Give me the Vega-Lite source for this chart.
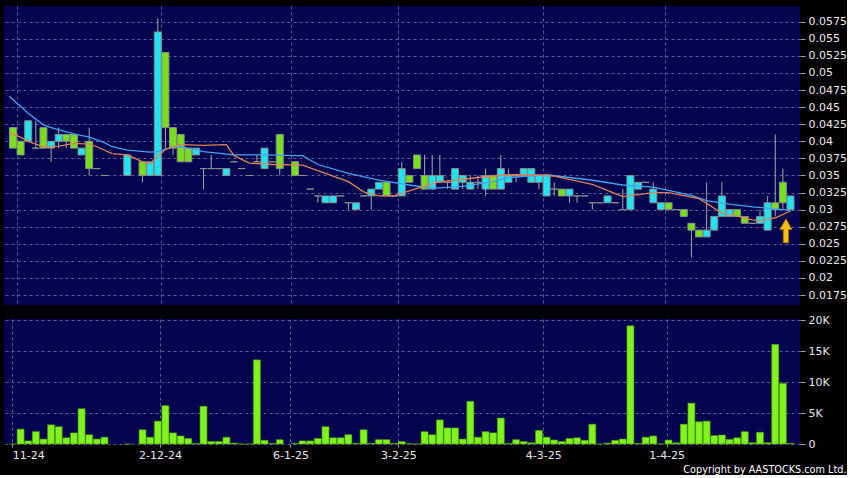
{
  "$schema": "https://vega.github.io/schema/vega-lite/v6.json",
  "background": "#000000",
  "padding": {"left": 4, "top": 6, "right": 0, "bottom": 0},
  "config": {
    "view": {"fill": "#03034f", "stroke": null},
    "axis": {"labelFont": "DejaVu Sans", "labelFontSize": 11, "labelColor": "#e8e8e8", "tickColor": "#a0a0a0", "domain": false, "gridColor": "#5c5c94", "gridDash": [3, 3], "gridWidth": 1, "title": null, "labelOverlap": false}
  },
  "datasets": {
    "candles": [
      {"i":0,"o":0.042,"h":0.042,"l":0.039,"c":0.039,"v":0},
      {"i":1,"o":0.040,"h":0.040,"l":0.038,"c":0.038,"v":2400},
      {"i":2,"o":0.040,"h":0.043,"l":0.040,"c":0.043,"v":500},
      {"i":3,"o":0.039,"h":0.043,"l":0.039,"c":0.039,"v":2000},
      {"i":4,"o":0.042,"h":0.042,"l":0.039,"c":0.039,"v":800},
      {"i":5,"o":0.039,"h":0.040,"l":0.037,"c":0.040,"v":3100},
      {"i":6,"o":0.040,"h":0.042,"l":0.039,"c":0.041,"v":2800},
      {"i":7,"o":0.041,"h":0.041,"l":0.039,"c":0.040,"v":1000},
      {"i":8,"o":0.041,"h":0.041,"l":0.039,"c":0.039,"v":1800},
      {"i":9,"o":0.038,"h":0.039,"l":0.038,"c":0.039,"v":5700},
      {"i":10,"o":0.040,"h":0.042,"l":0.035,"c":0.036,"v":1500},
      {"i":11,"o":0.036,"h":0.036,"l":0.036,"c":0.036,"v":800},
      {"i":12,"o":0.035,"h":0.035,"l":0.035,"c":0.035,"v":1100},
      {"i":15,"o":0.035,"h":0.038,"l":0.035,"c":0.038,"v":0},
      {"i":17,"o":0.037,"h":0.037,"l":0.034,"c":0.035,"v":2300},
      {"i":18,"o":0.035,"h":0.037,"l":0.035,"c":0.037,"v":1100},
      {"i":19,"o":0.035,"h":0.058,"l":0.035,"c":0.056,"v":3700},
      {"i":20,"o":0.053,"h":0.053,"l":0.039,"c":0.042,"v":6200},
      {"i":21,"o":0.042,"h":0.042,"l":0.038,"c":0.039,"v":1800},
      {"i":22,"o":0.041,"h":0.041,"l":0.037,"c":0.037,"v":1300},
      {"i":23,"o":0.039,"h":0.039,"l":0.037,"c":0.037,"v":900},
      {"i":24,"o":0.038,"h":0.039,"l":0.038,"c":0.039,"v":100},
      {"i":25,"o":0.036,"h":0.036,"l":0.033,"c":0.036,"v":6100},
      {"i":26,"o":0.036,"h":0.038,"l":0.036,"c":0.036,"v":400},
      {"i":27,"o":0.036,"h":0.036,"l":0.036,"c":0.036,"v":400},
      {"i":28,"o":0.035,"h":0.036,"l":0.035,"c":0.036,"v":1100},
      {"i":29,"o":0.037,"h":0.037,"l":0.037,"c":0.037,"v":150},
      {"i":30,"o":0.036,"h":0.036,"l":0.036,"c":0.036,"v":0},
      {"i":31,"o":0.035,"h":0.035,"l":0.035,"c":0.035,"v":0},
      {"i":32,"o":0.037,"h":0.038,"l":0.037,"c":0.037,"v":13600},
      {"i":33,"o":0.036,"h":0.039,"l":0.036,"c":0.039,"v":600},
      {"i":34,"o":0.037,"h":0.037,"l":0.037,"c":0.037,"v":100},
      {"i":35,"o":0.041,"h":0.041,"l":0.035,"c":0.036,"v":700},
      {"i":37,"o":0.037,"h":0.037,"l":0.035,"c":0.035,"v":100},
      {"i":38,"o":0.035,"h":0.035,"l":0.035,"c":0.035,"v":500},
      {"i":39,"o":0.033,"h":0.033,"l":0.033,"c":0.033,"v":500},
      {"i":40,"o":0.032,"h":0.032,"l":0.031,"c":0.032,"v":900},
      {"i":41,"o":0.031,"h":0.032,"l":0.031,"c":0.032,"v":2800},
      {"i":42,"o":0.031,"h":0.032,"l":0.031,"c":0.032,"v":1000},
      {"i":43,"o":0.032,"h":0.032,"l":0.032,"c":0.032,"v":1000},
      {"i":44,"o":0.031,"h":0.031,"l":0.030,"c":0.031,"v":1500},
      {"i":45,"o":0.030,"h":0.031,"l":0.030,"c":0.031,"v":100},
      {"i":46,"o":0.032,"h":0.032,"l":0.032,"c":0.032,"v":2300},
      {"i":47,"o":0.032,"h":0.033,"l":0.030,"c":0.033,"v":100},
      {"i":48,"o":0.033,"h":0.034,"l":0.033,"c":0.034,"v":700},
      {"i":49,"o":0.034,"h":0.034,"l":0.032,"c":0.032,"v":700},
      {"i":50,"o":0.032,"h":0.032,"l":0.032,"c":0.032,"v":100},
      {"i":51,"o":0.032,"h":0.037,"l":0.032,"c":0.036,"v":400},
      {"i":52,"o":0.035,"h":0.035,"l":0.034,"c":0.034,"v":50},
      {"i":53,"o":0.038,"h":0.038,"l":0.036,"c":0.036,"v":0},
      {"i":54,"o":0.035,"h":0.038,"l":0.033,"c":0.033,"v":2000},
      {"i":55,"o":0.033,"h":0.038,"l":0.033,"c":0.035,"v":1500},
      {"i":56,"o":0.034,"h":0.038,"l":0.034,"c":0.035,"v":3900},
      {"i":57,"o":0.034,"h":0.034,"l":0.033,"c":0.034,"v":2600},
      {"i":58,"o":0.033,"h":0.036,"l":0.033,"c":0.036,"v":2600},
      {"i":59,"o":0.034,"h":0.035,"l":0.033,"c":0.035,"v":800},
      {"i":60,"o":0.033,"h":0.035,"l":0.033,"c":0.034,"v":6900},
      {"i":61,"o":0.034,"h":0.035,"l":0.033,"c":0.034,"v":1100},
      {"i":62,"o":0.033,"h":0.036,"l":0.032,"c":0.035,"v":2000},
      {"i":63,"o":0.035,"h":0.035,"l":0.033,"c":0.033,"v":1800},
      {"i":64,"o":0.033,"h":0.038,"l":0.033,"c":0.036,"v":4200},
      {"i":65,"o":0.034,"h":0.036,"l":0.034,"c":0.035,"v":100},
      {"i":66,"o":0.035,"h":0.035,"l":0.034,"c":0.035,"v":700},
      {"i":67,"o":0.035,"h":0.036,"l":0.035,"c":0.036,"v":400},
      {"i":68,"o":0.034,"h":0.036,"l":0.034,"c":0.036,"v":200},
      {"i":69,"o":0.034,"h":0.035,"l":0.033,"c":0.035,"v":2200},
      {"i":70,"o":0.032,"h":0.035,"l":0.032,"c":0.035,"v":1100},
      {"i":71,"o":0.033,"h":0.034,"l":0.032,"c":0.033,"v":650},
      {"i":72,"o":0.033,"h":0.033,"l":0.032,"c":0.032,"v":400},
      {"i":73,"o":0.032,"h":0.033,"l":0.031,"c":0.033,"v":900},
      {"i":74,"o":0.032,"h":0.032,"l":0.031,"c":0.032,"v":1000},
      {"i":75,"o":0.032,"h":0.032,"l":0.032,"c":0.032,"v":600},
      {"i":76,"o":0.031,"h":0.031,"l":0.030,"c":0.031,"v":3200},
      {"i":77,"o":0.031,"h":0.031,"l":0.031,"c":0.031,"v":0},
      {"i":78,"o":0.031,"h":0.032,"l":0.031,"c":0.032,"v":150},
      {"i":79,"o":0.031,"h":0.031,"l":0.031,"c":0.031,"v":600},
      {"i":80,"o":0.030,"h":0.033,"l":0.030,"c":0.030,"v":800},
      {"i":81,"o":0.030,"h":0.035,"l":0.030,"c":0.035,"v":19100},
      {"i":82,"o":0.033,"h":0.034,"l":0.033,"c":0.034,"v":100},
      {"i":83,"o":0.034,"h":0.034,"l":0.034,"c":0.034,"v":1100},
      {"i":84,"o":0.031,"h":0.034,"l":0.031,"c":0.033,"v":1300},
      {"i":85,"o":0.030,"h":0.031,"l":0.030,"c":0.031,"v":0},
      {"i":86,"o":0.031,"h":0.031,"l":0.030,"c":0.030,"v":650},
      {"i":87,"o":0.030,"h":0.030,"l":0.030,"c":0.030,"v":200},
      {"i":88,"o":0.030,"h":0.030,"l":0.029,"c":0.029,"v":3200},
      {"i":89,"o":0.028,"h":0.028,"l":0.023,"c":0.027,"v":6600},
      {"i":90,"o":0.027,"h":0.027,"l":0.026,"c":0.026,"v":3600},
      {"i":91,"o":0.026,"h":0.034,"l":0.026,"c":0.027,"v":3700},
      {"i":92,"o":0.027,"h":0.029,"l":0.027,"c":0.029,"v":1350},
      {"i":93,"o":0.029,"h":0.034,"l":0.029,"c":0.032,"v":1450},
      {"i":94,"o":0.029,"h":0.030,"l":0.029,"c":0.030,"v":750},
      {"i":95,"o":0.030,"h":0.030,"l":0.029,"c":0.029,"v":1000},
      {"i":96,"o":0.029,"h":0.029,"l":0.028,"c":0.028,"v":2000},
      {"i":97,"o":0.028,"h":0.028,"l":0.028,"c":0.028,"v":200},
      {"i":98,"o":0.028,"h":0.030,"l":0.028,"c":0.029,"v":1900},
      {"i":99,"o":0.027,"h":0.032,"l":0.027,"c":0.031,"v":200},
      {"i":100,"o":0.031,"h":0.041,"l":0.029,"c":0.030,"v":16100},
      {"i":101,"o":0.034,"h":0.036,"l":0.030,"c":0.031,"v":9800},
      {"i":102,"o":0.030,"h":0.032,"l":0.030,"c":0.032,"v":100}
    ],
    "ma20": [
      {"i":-0.5,"v":0.0466},{"i":0,"v":0.0461},{"i":2,"v":0.0441},{"i":4,"v":0.0424},{"i":5,"v":0.0420},
      {"i":8,"v":0.0411},{"i":10,"v":0.0406},{"i":12,"v":0.0398},{"i":13,"v":0.0392},{"i":15,"v":0.0387},
      {"i":18,"v":0.0384},{"i":19,"v":0.0385},{"i":21,"v":0.0392},{"i":22,"v":0.0392},{"i":25,"v":0.0385},
      {"i":29,"v":0.0380},{"i":33,"v":0.0380},{"i":37,"v":0.0379},{"i":38,"v":0.0379},{"i":40,"v":0.0366},
      {"i":44,"v":0.0353},{"i":48,"v":0.0343},{"i":52,"v":0.0336},{"i":55,"v":0.0331},{"i":59,"v":0.0334},
      {"i":63,"v":0.0341},{"i":65,"v":0.0347},{"i":70,"v":0.0351},{"i":73,"v":0.0347},{"i":76,"v":0.0343},
      {"i":80,"v":0.0336},{"i":84,"v":0.0333},{"i":89,"v":0.0321},{"i":91,"v":0.0313},{"i":94,"v":0.0308},
      {"i":97,"v":0.0304},{"i":100,"v":0.0301},{"i":102,"v":0.0299}
    ],
    "ma10": [
      {"i":-0.5,"v":0.0414},{"i":0,"v":0.0410},{"i":1,"v":0.0406},{"i":2,"v":0.0400},{"i":4,"v":0.0392},
      {"i":6,"v":0.0393},{"i":8,"v":0.0397},{"i":10,"v":0.0396},{"i":11,"v":0.0392},{"i":13,"v":0.0382},
      {"i":15,"v":0.0380},{"i":17,"v":0.0370},{"i":18,"v":0.0367},{"i":19,"v":0.0378},{"i":20,"v":0.0388},
      {"i":22,"v":0.0395},{"i":25,"v":0.0394},{"i":28,"v":0.0395},{"i":29,"v":0.0379},{"i":31,"v":0.0368},
      {"i":34,"v":0.0366},{"i":38,"v":0.0365},{"i":41,"v":0.0353},{"i":44,"v":0.0341},{"i":46,"v":0.0326},
      {"i":48,"v":0.0320},{"i":50,"v":0.0320},{"i":53,"v":0.0331},{"i":56,"v":0.0341},{"i":58,"v":0.0343},
      {"i":61,"v":0.0347},{"i":65,"v":0.0351},{"i":68,"v":0.0351},{"i":71,"v":0.0349},{"i":76,"v":0.0337},
      {"i":80,"v":0.0319},{"i":84,"v":0.0325},{"i":86,"v":0.0325},{"i":90,"v":0.0316},{"i":93,"v":0.0295},
      {"i":94,"v":0.0293},{"i":97,"v":0.0285},{"i":98,"v":0.0284},{"i":100,"v":0.0288},{"i":102,"v":0.0298}
    ],
    "marker": [{"i": 101.4, "p": 0.0269}]
  },
  "title": {"text": "Copyright by AASTOCKS.com Ltd.", "orient": "bottom", "anchor": "end", "frame": "bounds", "color": "#ffffff", "font": "DejaVu Sans", "fontSize": 9.7, "fontWeight": "normal", "offset": 5},
  "spacing": 9,
  "resolve": {"scale": {"x": "independent", "y": "independent"}},
  "vconcat": [
    {
      "width": 796,
      "height": 299,
      "layer": [
        {
          "data": {"name": "candles"},
          "mark": {"type": "rule", "color": "#a8a8a8", "strokeWidth": 1},
          "encoding": {
            "x": {"field": "i", "type": "quantitative", "scale": {"domain": [-0.52, 102.59], "nice": false, "zero": false},
                  "axis": {"values": [0.48, 19.47, 36.44, 50.56, 69.47, 85.56], "tickCount": 20, "labels": false, "ticks": false, "grid": true}},
            "y": {"field": "l", "type": "quantitative", "scale": {"domain": [0.01604, 0.0598], "nice": false, "zero": false},
                  "axis": {"orient": "right", "values": [0.0175, 0.02, 0.0225, 0.025, 0.0275, 0.03, 0.0325, 0.035, 0.0375, 0.04, 0.0425, 0.045, 0.0475, 0.05, 0.0525, 0.055, 0.0575],
                           "tickCount": 40, "format": ".4~f", "tickSize": 5, "labelPadding": 3, "grid": true, "labelOverlap": false, "labelBound": false}},
            "y2": {"field": "h"}
          }
        },
        {
          "data": {"name": "candles"},
          "mark": {"type": "bar", "width": 7, "stroke": "#8c8c8c", "strokeWidth": 1},
          "encoding": {
            "x": {"field": "i", "type": "quantitative", "scale": {"domain": [-0.52, 102.59], "nice": false, "zero": false}},
            "y": {"field": "o", "type": "quantitative", "scale": {"domain": [0.01604, 0.0598], "nice": false, "zero": false}},
            "y2": {"field": "c"},
            "fill": {"condition": {"test": "datum.c > datum.o", "value": "#1fe4f2"}, "value": "#78e01a"}
          }
        },
        {
          "data": {"name": "ma20"},
          "mark": {"type": "line", "color": "#45a3ee", "strokeWidth": 1.3},
          "encoding": {
            "x": {"field": "i", "type": "quantitative", "scale": {"domain": [-0.52, 102.59], "nice": false, "zero": false}},
            "y": {"field": "v", "type": "quantitative", "scale": {"domain": [0.01604, 0.0598], "nice": false, "zero": false}}
          }
        },
        {
          "data": {"name": "ma10"},
          "mark": {"type": "line", "color": "#dc8458", "strokeWidth": 1.3},
          "encoding": {
            "x": {"field": "i", "type": "quantitative", "scale": {"domain": [-0.52, 102.59], "nice": false, "zero": false}},
            "y": {"field": "v", "type": "quantitative", "scale": {"domain": [0.01604, 0.0598], "nice": false, "zero": false}}
          }
        },
        {
          "data": {"name": "marker"},
          "mark": {"type": "point", "filled": true, "shape": "M0,-1 L0.5,-0.1 L0.22,-0.1 L0.22,1 L-0.22,1 L-0.22,-0.1 L-0.5,-0.1 Z", "size": 576, "fill": "#f5c010", "stroke": "#a87000", "strokeWidth": 1, "opacity": 1},
          "encoding": {
            "x": {"field": "i", "type": "quantitative", "scale": {"domain": [-0.52, 102.59], "nice": false, "zero": false}},
            "y": {"field": "p", "type": "quantitative", "scale": {"domain": [0.01604, 0.0598], "nice": false, "zero": false}}
          }
        }
      ]
    },
    {
      "width": 796,
      "height": 125,
      "data": {"name": "candles"},
      "mark": {"type": "bar", "width": 7, "fill": "#80f21c", "stroke": "#4f9a0c", "strokeWidth": 0.6},
      "encoding": {
        "x": {"field": "i", "type": "quantitative", "scale": {"domain": [-0.52, 102.59], "nice": false, "zero": false},
              "axis": {"values": [-0.09, 19.3, 36.4, 50.56, 69.56, 85.75], "tickCount": 20, "grid": true, "tickSize": 3, "labelPadding": 2, "labelFlush": false,
                       "labelExpr": "datum.value < 5 ? '11-24' : datum.value < 25 ? '2-12-24' : datum.value < 45 ? '6-1-25' : datum.value < 60 ? '3-2-25' : datum.value < 78 ? '4-3-25' : '1-4-25'",
                       "labelAlign": {"condition": {"test": "datum.value < 5", "value": "left"}, "value": "center"}}},
        "y": {"field": "v", "type": "quantitative", "scale": {"domain": [0, 20200], "nice": false},
              "axis": {"orient": "right", "values": [0, 5000, 10000, 15000, 20000], "tickCount": 20, "labelExpr": "datum.value == 0 ? '0' : (datum.value / 1000) + 'K'", "tickSize": 5, "labelPadding": 3, "grid": true, "labelOverlap": false}}
      }
    }
  ]
}
